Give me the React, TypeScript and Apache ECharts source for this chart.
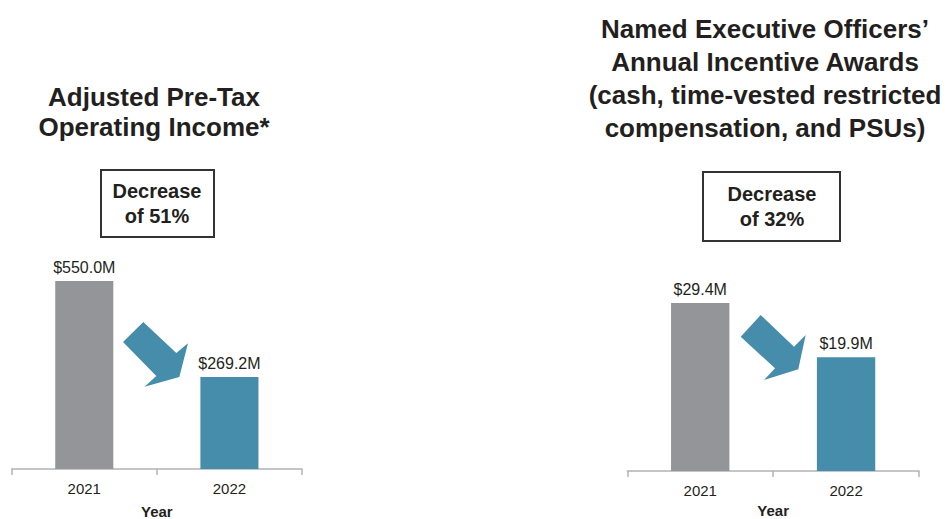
import React, { useEffect, useRef } from "react";
import * as echarts from "echarts";

const years = ["2021", "2022"];
const incomeValues = [550.0, 269.2];
const awardValues = [29.4, 19.9];
const leftTitle = "Adjusted Pre-Tax\nOperating Income*";
const rightTitle =
  "Named Executive Officers’\nAnnual Incentive Awards\n(cash, time-vested restricted\ncompensation, and PSUs)";
const leftBoxText = "Decrease\nof 51%";
const rightBoxText = "Decrease\nof 32%";
const axisName = "Year";

const GRAY = "#939598";
const BLUE = "#468dab";
const FONT = "Liberation Sans, Arial, sans-serif";

const fmt = (v: number) => "$" + v.toFixed(1) + "M";

export default function App() {
  const ref = useRef<HTMLDivElement>(null);
  useEffect(() => {
    document.body.style.margin = "0";
    const chart = echarts.init(ref.current!, null, { renderer: "svg" });
    const barData = (vals: number[]) =>
      vals.map((v, i) => ({ value: v, itemStyle: { color: i === 0 ? GRAY : BLUE } }));
    const xAxisCommon = {
      type: "category" as const,
      data: years,
      boundaryGap: true,
      axisLine: { lineStyle: { color: "#b3b3b3", width: 1.5 } },
      axisTick: { show: true, length: 6, lineStyle: { color: "#b3b3b3", width: 1.5 } },
      axisLabel: { color: "#231f20", fontSize: 15, fontFamily: FONT, margin: 12 },
      name: axisName,
      nameLocation: "middle" as const,
      nameTextStyle: { color: "#231f20", fontSize: 15, fontWeight: "bold" as const, fontFamily: FONT },
    };
    const yAxisCommon = {
      type: "value" as const,
      min: 0,
      show: false,
      splitLine: { show: false },
    };
    const labelCommon = {
      show: true,
      position: "top" as const,
      distance: 6,
      color: "#231f20",
      fontSize: 16,
      fontFamily: FONT,
      formatter: (p: any) => fmt(p.value),
    };
    const boxText = (text: string, cx: number, cy: number) => ({
      type: "text",
      x: cx,
      y: cy,
      style: {
        text,
        align: "center",
        verticalAlign: "middle",
        font: `bold 20px ${FONT}`,
        lineHeight: 25,
        fill: "#231f20",
      },
    });
    chart.setOption({
      animation: false,
      backgroundColor: "#ffffff",
      grid: [
        { left: 11.7, width: 290.3, top: 264, height: 205, outerBoundsMode: "none", containLabel: false },
        { left: 627.3, width: 291.7, top: 271, height: 200, outerBoundsMode: "none", containLabel: false },
      ],
      xAxis: [
        { ...xAxisCommon, gridIndex: 0, nameGap: 35 },
        { ...xAxisCommon, gridIndex: 1, nameGap: 32 },
      ],
      yAxis: [
        { ...yAxisCommon, gridIndex: 0, max: 600 },
        { ...yAxisCommon, gridIndex: 1, max: 35 },
      ],
      series: [
        {
          type: "bar",
          xAxisIndex: 0,
          yAxisIndex: 0,
          barWidth: "40%",
          data: barData(incomeValues),
          label: labelCommon,
        },
        {
          type: "bar",
          xAxisIndex: 1,
          yAxisIndex: 1,
          barWidth: "40%",
          data: barData(awardValues),
          label: labelCommon,
        },
      ],
      graphic: [
        {
          type: "text",
          x: 154,
          y: 112,
          style: {
            text: leftTitle,
            align: "center",
            verticalAlign: "middle",
            font: `bold 26px ${FONT}`,
            lineHeight: 30,
            fill: "#231f20",
          },
        },
        {
          type: "text",
          x: 765,
          y: 78,
          style: {
            text: rightTitle,
            align: "center",
            verticalAlign: "middle",
            font: `bold 26px ${FONT}`,
            lineHeight: 33,
            fill: "#231f20",
          },
        },
        {
          type: "rect",
          shape: { x: 101, y: 170, width: 113, height: 67 },
          style: { fill: "#ffffff", stroke: "#333333", lineWidth: 2 },
        },
        boxText(leftBoxText, 157, 203.5),
        {
          type: "rect",
          shape: { x: 703, y: 172, width: 137, height: 69 },
          style: { fill: "#ffffff", stroke: "#333333", lineWidth: 2 },
        },
        boxText(rightBoxText, 772, 206),
        {
          type: "polygon",
          shape: {
            points: [
              [123, 342],
              [143.3, 322],
              [176.3, 353],
              [188, 343.3],
              [179.3, 377],
              [144.5, 386.7],
              [156.3, 376],
            ],
          },
          style: { fill: BLUE },
        },
        {
          type: "polygon",
          shape: {
            points: [
              [740.7, 336.7],
              [760.7, 315],
              [794, 346.7],
              [805.7, 335],
              [798.3, 369.3],
              [764, 380],
              [775, 368.3],
            ],
          },
          style: { fill: BLUE },
        },
      ],
    });
    return () => chart.dispose();
  }, []);
  return <div ref={ref} style={{ width: 950, height: 519 }} />;
}
